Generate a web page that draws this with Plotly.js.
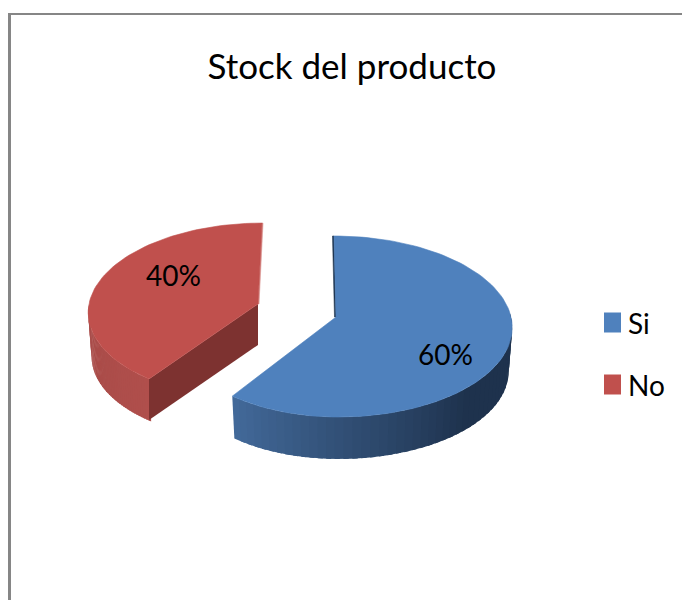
<!DOCTYPE html>
<html>
<head>
<meta charset="utf-8">
<script src="https://cdn.plot.ly/plotly-3.0.1.min.js"></script>
<style>html,body{margin:0;padding:0;background:#fff}</style>
</head>
<body>
<div id="chart" style="width:682px;height:600px"></div>
<script>
// Chart data
const categories = ['Si', 'No'];
const shares = [60, 40];
const chartTitle = 'Stock del producto';

// Colours per slice: top face, wall ramp ends, cut face
const topColors = ['#4f81bd', '#c0504d'];
const wallFrom = [[66, 105, 153], [166, 74, 71]];
const wallTo = [[30, 50, 77], [176, 79, 76]];
const cutColors = ['#1f3550', '#7d3230'];

// Projection of each exploded slice, in plot units
const sliceGeom = [
  {cx: 336, cy: 317, rR: 175, rL: 164, b: 89.5, k: 0.105, tilt: -2, wallFromDeg: 216, wallToDeg: 87, labelX: 445, labelY: 354},
  {cx: 258, cy: 304, rR: 170, rL: 169, b: 87, k: 0.075, tilt: 4, wallFromDeg: 270, wallToDeg: 216, labelX: 173, labelY: 275}
];
const depth = 44;
const bottomScale = 0.98;

const RAD = Math.PI / 180;

// Point on a slice rim: degrees clockwise from 12 o'clock, with foreshortening toward the back
function rim(g, deg, scale, drop) {
  const u = Math.sin(deg * RAD), v = Math.cos(deg * RAD), w = 1 + g.k * v;
  const a = u < 0 ? g.rL : g.rR;
  return [g.cx + scale * (a * u / w + g.tilt * v), g.cy - scale * g.b * v / w + drop];
}

function polygon(pts, color, name, lineWidth) {
  const x = pts.map(p => p[0]).concat(pts[0][0]);
  const y = pts.map(p => p[1]).concat(pts[0][1]);
  return {
    type: 'scatter', mode: 'lines', x, y, fill: 'toself', fillcolor: color, name,
    line: {color, width: lineWidth}, hoverinfo: 'skip', showlegend: false
  };
}

const traces = [];
const total = shares.reduce((s, v) => s + v, 0);
let startDeg = 0;

categories.forEach((cat, i) => {
  const g = sliceGeom[i];
  const endDeg = startDeg + shares[i] / total * 360;

  // Outer wall, split into strips for the shading ramp; strips overlap so no seams show
  const strips = 48;
  for (let s = 0; s < strips; s++) {
    const d0 = g.wallFromDeg + (g.wallToDeg - g.wallFromDeg) * s / strips;
    const d1 = g.wallFromDeg + (g.wallToDeg - g.wallFromDeg) * (s + 1.6) / strips;
    const dEnd = g.wallFromDeg + (g.wallToDeg - g.wallFromDeg) * Math.min(1, (s + 1.6) / strips);
    // the blue wall reaches its darkest tone well before the right end
    const t = i === 0 ? Math.min(1, s / (strips * 0.6)) : s / strips;
    const c = wallFrom[i].map((c0, n) => Math.round(c0 + (wallTo[i][n] - c0) * t));
    traces.push(polygon(
      [rim(g, d0, 1, 0), rim(g, dEnd, 1, 0), rim(g, dEnd, bottomScale, depth), rim(g, d0, bottomScale, depth)],
      'rgb(' + c.join(',') + ')', cat + ' wall', 0));
  }

  // Cut face seen through the explosion gap
  const centre = [g.cx, g.cy];
  if (i === 1) {
    const p = rim(g, startDeg, 1, 0);
    traces.push(polygon([centre, p, [p[0], p[1] + depth - 3], [centre[0], centre[1] + depth - 3]], cutColors[i], cat + ' cut', 0));
    const q = rim(g, endDeg, 1, 0);
    traces.push(polygon([centre, q, [q[0] + 1, q[1]], [centre[0] + 1, centre[1]]], '#d98f8c', cat + ' edge', 0.6));
  } else {
    const q = rim(g, startDeg, 1, 0);
    traces.push(polygon([centre, q, [q[0] - 1.5, q[1]], [centre[0] - 1.5, centre[1]]], cutColors[i], cat + ' edge', 0.6));
  }

  // Top face
  const pts = [centre];
  for (let d = startDeg; d <= endDeg + 1e-6; d += 2) pts.push(rim(g, d, 1, 0));
  traces.push(polygon(pts, topColors[i], cat, 0.6));

  startDeg = endDeg;
});

// Legend keys
const keyRows = [322.5, 384.5];
categories.forEach((cat, i) => {
  const y = keyRows[i];
  traces.push(polygon([[604, y - 10], [621, y - 10], [621, y + 10], [604, y + 10]], topColors[i], cat + ' key', 0));
});

const font = '"Lato", "Open Sans", sans-serif';

const annotations = [];
categories.forEach((cat, i) => {
  annotations.push({
    x: sliceGeom[i].labelX, y: sliceGeom[i].labelY, xref: 'x', yref: 'y', showarrow: false,
    text: Math.round(shares[i] / total * 100) + '%', font: {family: font, size: 28, color: '#000'}
  });
  annotations.push({
    x: 626, y: keyRows[i], xref: 'x', yref: 'y', xanchor: 'left', showarrow: false,
    text: cat, font: {family: font, size: 28, color: '#000'}
  });
});

const layout = {
  width: 682, height: 600,
  margin: {l: 0, r: 0, t: 0, b: 0},
  paper_bgcolor: '#fff', plot_bgcolor: '#fff',
  showlegend: false,
  title: {text: chartTitle, x: 352 / 682, xanchor: 'center', y: 1 - 67 / 600, yanchor: 'middle', font: {family: font, size: 35, color: '#000'}},
  xaxis: {range: [0, 682], visible: false, fixedrange: true},
  yaxis: {range: [600, 0], visible: false, fixedrange: true},
  annotations,
  shapes: [
    {type: 'line', xref: 'x', yref: 'y', x0: 9.5, x1: 9.5, y0: 13, y1: 600, line: {color: '#868686', width: 3}},
    {type: 'line', xref: 'x', yref: 'y', x0: 8, x1: 682, y0: 14, y1: 14, line: {color: '#868686', width: 2}}
  ]
};

Plotly.newPlot('chart', traces, layout, {displayModeBar: false, staticPlot: true});
</script>
</body>
</html>
